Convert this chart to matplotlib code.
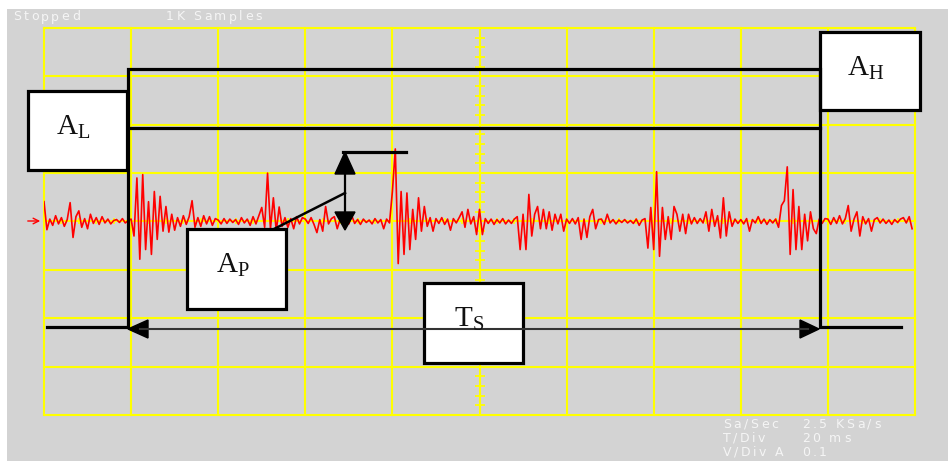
import numpy as np
import matplotlib.pyplot as plt
from matplotlib.patches import Rectangle, Polygon

plt.rcParams['mathtext.fontset'] = 'custom'
plt.rcParams['mathtext.rm'] = 'Liberation Serif'
plt.rcParams['mathtext.it'] = 'Liberation Serif:italic'

# scope trace, in vertical divisions, 30 samples per horizontal division
div0 = [0.41, -0.17, 0.05, -0.08, 0.12, -0.05, 0.08, -0.1, 0.04, 0.39, -0.33, 0.1, 0.22, -0.12, 0.06,
        -0.15, 0.15, -0.04, 0.08, -0.06, 0.1, -0.03, 0.05, -0.05, 0.02, 0.04, -0.02, 0.06, -0.03, 0.02]
div1 = [0.05, -0.3, 0.9, -0.78, 0.97, -0.58, 0.41, -0.68, 0.62, -0.37, 0.52, -0.2, 0.31, -0.22, 0.15,
        -0.18, 0.08, -0.1, 0.12, -0.06, 0.1, 0.43, -0.12, 0.08, -0.1, 0.12, -0.05, 0.1, -0.08, 0.06]
div2 = [0.03, -0.05, 0.06, -0.04, 0.05, -0.02, 0.04, -0.06, 0.08, -0.03, 0.05, -0.08, 0.1, -0.05, 0.12,
        0.29, -0.12, 1.0, -0.15, 0.49, -0.2, 0.3, -0.1, 0.08, -0.12, 0.06, -0.15, 0.1, -0.05, 0.08]
div3 = [0.05, -0.04, 0.08, -0.06, -0.23, 0.04, -0.2, 0.31, -0.05, 0.06, 0.1, -0.15, 0.05, -0.03, 0.06,
        -0.05, 0.12, -0.04, 0.04, -0.06, 0.05, -0.02, 0.03, -0.05, 0.06, -0.03, 0.04, -0.15, 0.05, -0.03]
div4 = [0.62, 1.5, -0.87, 0.62, -0.68, 0.59, -0.58, 0.25, -0.37, 0.49, -0.2, 0.31, -0.1, 0.08, -0.2,
        0.06, -0.04, 0.08, -0.06, 0.05, -0.18, 0.06, -0.03, 0.08, 0.2, -0.12, 0.25, -0.05, 0.1, -0.27]
div5 = [0.25, -0.27, 0.06, -0.04, 0.05, -0.06, 0.04, -0.03, 0.06, -0.05, 0.03, -0.04, 0.05, 0.1, -0.58,
        0.15, -0.58, 0.56, -0.3, 0.15, 0.31, -0.15, 0.25, -0.15, 0.2, -0.18, 0.15, -0.05, 0.15, -0.2]
div6 = [0.05, -0.04, 0.06, -0.05, 0.08, -0.37, 0.05, -0.33, 0.1, 0.25, -0.15, 0.04, 0.05, -0.06, 0.15,
        -0.03, 0.04, -0.05, 0.03, -0.02, 0.04, -0.03, 0.02, -0.04, 0.05, -0.08, 0.03, 0.06, -0.55, 0.29]
div7 = [-0.58, 1.03, -0.72, 0.29, -0.37, 0.1, -0.37, 0.31, 0.15, -0.2, 0.15, -0.25, 0.15, -0.05, 0.08,
        -0.04, 0.06, -0.03, 0.2, -0.2, 0.25, -0.1, 0.12, -0.34, 0.49, -0.3, 0.2, -0.1, 0.05, -0.04]
div8 = [0.04, -0.05, 0.06, -0.2, 0.04, -0.03, 0.1, -0.04, 0.05, -0.06, 0.04, -0.03, 0.05, -0.12, 0.33,
        0.43, 1.13, -0.68, 0.66, -0.58, 0.31, -0.58, 0.15, -0.4, 0.2, -0.15, -0.25, 0.05, -0.04, 0.06]
div9 = [0.05, -0.06, 0.08, -0.04, 0.12, -0.05, 0.06, 0.33, -0.2, 0.05, 0.2, -0.3, 0.1, -0.05, 0.06,
        -0.2, 0.04, 0.08, -0.03, 0.05, -0.04, 0.03, -0.06, 0.04, -0.02, 0.05, 0.08, -0.03, 0.1, -0.15]

trace = div0 + div1 + div2 + div3 + div4 + div5 + div6 + div7 + div8 + div9
status_text = ["Stopped", "1K Samples"]
info_labels = ["Sa/Sec", "T/Div", "V/Div"]
info_values = ["2.5 KSa/s", "20 ms", "0.1"]

W, H = 948, 461
fig = plt.figure(figsize=(W / 100, H / 100), dpi=100, facecolor='white')
renderer = fig.canvas.get_renderer()


def tracked(ax, x, y, s, track=2.5, **kw):
    # scope font is letter-spaced: place chars one by one with extra gap
    for ch in s:
        if ch == ' ':
            x += 4 + track
            continue
        t = ax.text(x, y, ch, ha='left', va='center', **kw)
        x += t.get_window_extent(renderer=renderer).width + track


# gray scope screen + texts
bg = fig.add_axes([0, 0, 1, 1], zorder=0)
bg.set_xlim(0, W)
bg.set_ylim(H, 0)
bg.axis('off')
bg.add_patch(Rectangle((7, 9), W - 7, H - 9, facecolor='#d3d3d3', edgecolor='none'))
txt_col = '#f5f5f5'
tracked(bg, 13, 17, status_text[0], color=txt_col, fontsize=9)
tracked(bg, 166, 17, status_text[1], color=txt_col, fontsize=9)
for i in range(3):
    tracked(bg, 723, 424 + 14 * i, info_labels[i], color=txt_col, fontsize=9)
    tracked(bg, 802, 424 + 14 * i, info_values[i], color=txt_col, fontsize=9)
tracked(bg, 775, 452, "A", color=txt_col, fontsize=9)

# grid + trace
scope = fig.add_axes([44 / W, 1 - 415 / H, (915 - 44) / W, (415 - 28) / H], zorder=1)
scope.set_xlim(0, 10)
scope.set_ylim(-4, 4)
scope.patch.set_alpha(0)
for s in scope.spines.values():
    s.set_visible(False)
scope.set_xticks([])
scope.set_yticks([])
for xv in range(11):
    scope.axvline(xv, color='#ffff00', lw=1.5, clip_on=False)
for yv in range(-4, 5):
    scope.axhline(yv, color='#ffff00', lw=1.5, clip_on=False)
minor = np.arange(-4, 4.01, 0.2)
scope.plot([5] * len(minor), minor, ls='none', marker='_', ms=7, mew=1.3, color='#ffff00')
minor_x = np.arange(0, 10.01, 0.2)
scope.plot(minor_x, [0] * len(minor_x), ls='none', marker='|', ms=5, mew=1.2, color='#ffff00')

x = np.arange(len(trace)) / 30
scope.plot(x, trace, color='#ff0000', lw=1.2)

# annotations
ann = fig.add_axes([0, 0, 1, 1], zorder=2)
ann.set_xlim(0, W)
ann.set_ylim(H, 0)
ann.patch.set_alpha(0)
ann.axis('off')

ann.annotate('', xy=(43, 221), xytext=(25, 221),
             arrowprops=dict(arrowstyle='->', color='#ff0000', lw=1))

lw_box = 2.3
ann.plot([47, 128, 128, 820, 820, 901], [327, 327, 69, 69, 327, 327],
         color='black', lw=lw_box, solid_joinstyle='miter')
ann.plot([128, 820], [128, 128], color='black', lw=lw_box)

# Ts double arrow
ann.plot([140, 808], [329, 329], color='#333333', lw=1.5)
ann.add_patch(Polygon([(128, 329), (148, 320), (148, 338)], closed=True, fc='black', ec='black'))
ann.add_patch(Polygon([(819, 329), (800, 320), (800, 338)], closed=True, fc='black', ec='black'))

# Ap amplitude marker
ann.plot([345, 345], [160, 222], color='black', lw=1.6)
ann.add_patch(Polygon([(345, 152), (335, 174), (355, 174)], closed=True, fc='black', ec='black'))
ann.add_patch(Polygon([(345, 230), (335, 212), (355, 212)], closed=True, fc='black', ec='black'))
ann.plot([343, 406], [152, 152], color='black', lw=lw_box)
ann.plot([274, 345], [229, 193], color='black', lw=1.8)

boxes = [((28, 91), 99, 79, r'$\mathrm{A_L}$'),
         ((820, 32), 100, 78, r'$\mathrm{A_H}$'),
         ((187, 229), 99, 80, r'$\mathrm{A_P}$'),
         ((424, 283), 99, 80, r'$\mathrm{T_S}$')]
for (bx, by), bw, bh, lab in boxes:
    ann.add_patch(Rectangle((bx, by), bw, bh, fc='white', ec='black', lw=lw_box, joinstyle='miter'))
    ann.text(bx + bw / 2 - 4, by + 36, lab, fontsize=21, ha='center', va='center', color='#111111')

fig.savefig('out.png', dpi=100, facecolor='white')
